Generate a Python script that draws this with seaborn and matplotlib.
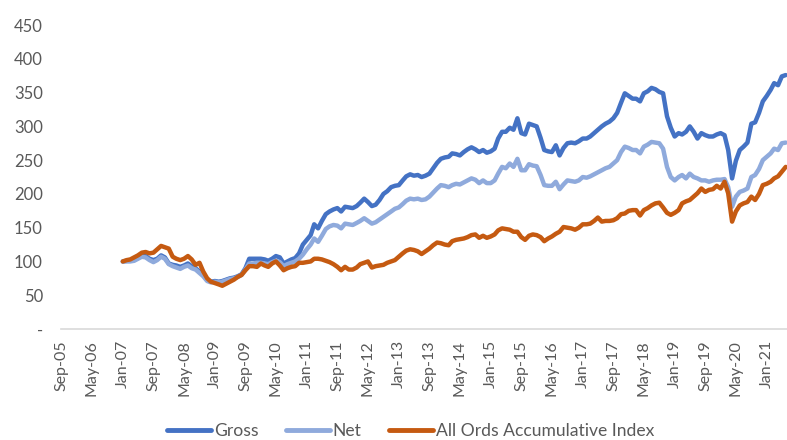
import pandas as pd
import matplotlib
matplotlib.use('Agg')
import matplotlib.pyplot as plt
import seaborn as sns

# Monthly index values, Jan-07 to Jun-21.
gross = [100, 101, 101, 102, 105, 109, 108, 104, 102, 104, 109, 106,
         97, 95, 94, 92, 94, 97, 93, 90, 85, 80, 73, 70,
         71, 70, 71, 73, 75, 76, 78, 81, 90, 104, 104, 104,
         104, 103, 101, 104, 108, 106, 97, 100, 103, 105, 112, 125,
         132, 139, 155, 149, 160, 170, 174, 177, 179, 174, 181, 180,
         179, 182, 187, 193, 188, 182, 184, 191, 200, 204, 210, 212,
         213, 220, 226, 229, 227, 228, 225, 227, 230, 238, 246, 252,
         254, 255, 260, 259, 257, 262, 266, 269, 266, 262, 265, 261,
         263, 267, 282, 292, 292, 298, 295, 312, 290, 288, 304, 302,
         300, 283, 265, 263, 262, 272, 257, 268, 275, 276, 275, 278,
         282, 282, 285, 290, 295, 300, 304, 307, 312, 320, 335, 349,
         345, 341, 341, 337, 349, 352, 357, 355, 351, 349, 315, 298,
         285, 290, 288, 292, 300, 292, 282, 290, 287, 285, 285, 288,
         290, 287, 265, 223, 249, 265, 270, 276, 304, 306, 320, 337,
         345, 354, 364, 361, 374, 376]

net = [100, 100, 100, 101, 104, 107, 106, 102, 99, 102, 107, 104,
       96, 93, 91, 89, 92, 94, 90, 88, 83, 78, 71, 69,
       70, 69, 70, 72, 74, 75, 77, 80, 88, 97, 97, 98,
       98, 97, 96, 99, 101, 99, 93, 96, 98, 100, 104, 110,
       118, 125, 134, 129, 138, 148, 152, 154, 153, 149, 156, 155,
       154, 157, 160, 164, 160, 156, 158, 162, 166, 170, 174, 178,
       180, 185, 190, 193, 192, 193, 191, 192, 196, 202, 208, 213,
       212, 210, 213, 215, 214, 217, 220, 223, 221, 216, 220, 216,
       216, 220, 230, 240, 238, 245, 240, 252, 235, 235, 244, 242,
       241, 228, 213, 212, 212, 218, 207, 214, 220, 219, 218, 220,
       225, 224, 226, 229, 232, 235, 238, 240, 245, 250, 262, 270,
       268, 265, 265, 260, 270, 273, 277, 276, 275, 267, 240, 225,
       220, 225, 228, 223, 230, 225, 223, 220, 220, 218, 220, 221,
       221, 222, 210, 181, 196, 203, 205, 208, 225, 228, 237, 250,
       255, 260, 267, 265, 275, 276]

all_ords = [100, 102, 103, 106, 109, 113, 114, 112, 113, 118, 123, 121,
            119, 107, 104, 102, 104, 108, 103, 95, 98, 85, 75, 70,
            68, 66, 64, 67, 70, 73, 77, 80, 87, 93, 93, 92,
            97, 94, 92, 97, 100, 94, 87, 90, 92, 93, 98, 98,
            99, 100, 104, 104, 103, 101, 99, 96, 92, 87, 92, 88,
            88, 91, 96, 98, 100, 91, 93, 94, 95, 98, 100, 102,
            107, 112, 116, 118, 117, 115, 111, 115, 119, 124, 128, 127,
            125, 124, 130, 132, 133, 134, 136, 139, 140, 135, 138, 135,
            137, 140, 146, 149, 148, 147, 144, 144, 136, 132, 138, 140,
            139, 136, 130, 134, 137, 141, 144, 151, 150, 149, 147, 150,
            155, 155, 156, 160, 165, 159, 160, 160, 161, 164, 170, 171,
            175, 176, 176, 168, 176, 179, 183, 186, 187, 180, 172, 169,
            172, 176, 186, 189, 191, 196, 201, 208, 203, 206, 207, 212,
            208, 218, 201, 159, 174, 183, 186, 188, 196, 191, 200, 213,
            215, 218, 223, 226, 233, 240]

dates = pd.date_range('2007-01-01', periods=len(gross), freq='MS')
series_names = ['Gross', 'Net', 'All Ords Accumulative Index']
colors = ['#4472C4', '#8FAADC', '#C55A11']

df = pd.DataFrame({'date': dates, 'Gross': gross, 'Net': net,
                   'All Ords Accumulative Index': all_ords})
long_df = df.melt(id_vars='date', var_name='series', value_name='value')

sns.set_theme(style='white')
plt.rcParams['font.family'] = ['Lato', 'DejaVu Sans']

fig = plt.figure(figsize=(7.87, 4.4), dpi=100)
ax = fig.add_axes([0.0775, 0.2523, 0.922, 0.6907])

sns.lineplot(data=long_df, x='date', y='value', hue='series',
             hue_order=series_names, palette=colors, linewidth=3.2, ax=ax)

# Axis limits and ticks
ax.set_xlim(pd.Timestamp('2005-08-28'), pd.Timestamp('2021-06-08'))
ax.set_ylim(0, 450)
ax.set_yticks(range(0, 451, 50))
ax.set_yticklabels(['-'] + [str(v) for v in range(50, 451, 50)])
tick_dates = pd.date_range('2005-09-01', '2021-06-01', freq='8MS')
ax.set_xticks(tick_dates)
ax.set_xticklabels([d.strftime('%b-%y') for d in tick_dates], rotation=90)

ax.tick_params(axis='y', length=0, pad=13, labelsize=12, labelcolor='#595959')
ax.tick_params(axis='x', length=0, pad=8, labelsize=11.5, labelcolor='#595959')
ax.set_xlabel('')
ax.set_ylabel('')

for side in ['top', 'right', 'left']:
    ax.spines[side].set_visible(False)
ax.spines['bottom'].set_color('#D9D9D9')
ax.spines['bottom'].set_linewidth(1.2)

leg = ax.legend(loc='center', bbox_to_anchor=(0.482, -0.337), ncol=3,
                frameon=False, fontsize=12.6, handlelength=2.5,
                handletextpad=0.15, columnspacing=1.6,
                borderaxespad=0, borderpad=0.1)
for t in leg.get_texts():
    t.set_color('#595959')
for line in leg.get_lines():
    line.set_linewidth(3.5)

fig.savefig('out.png', dpi=100)
